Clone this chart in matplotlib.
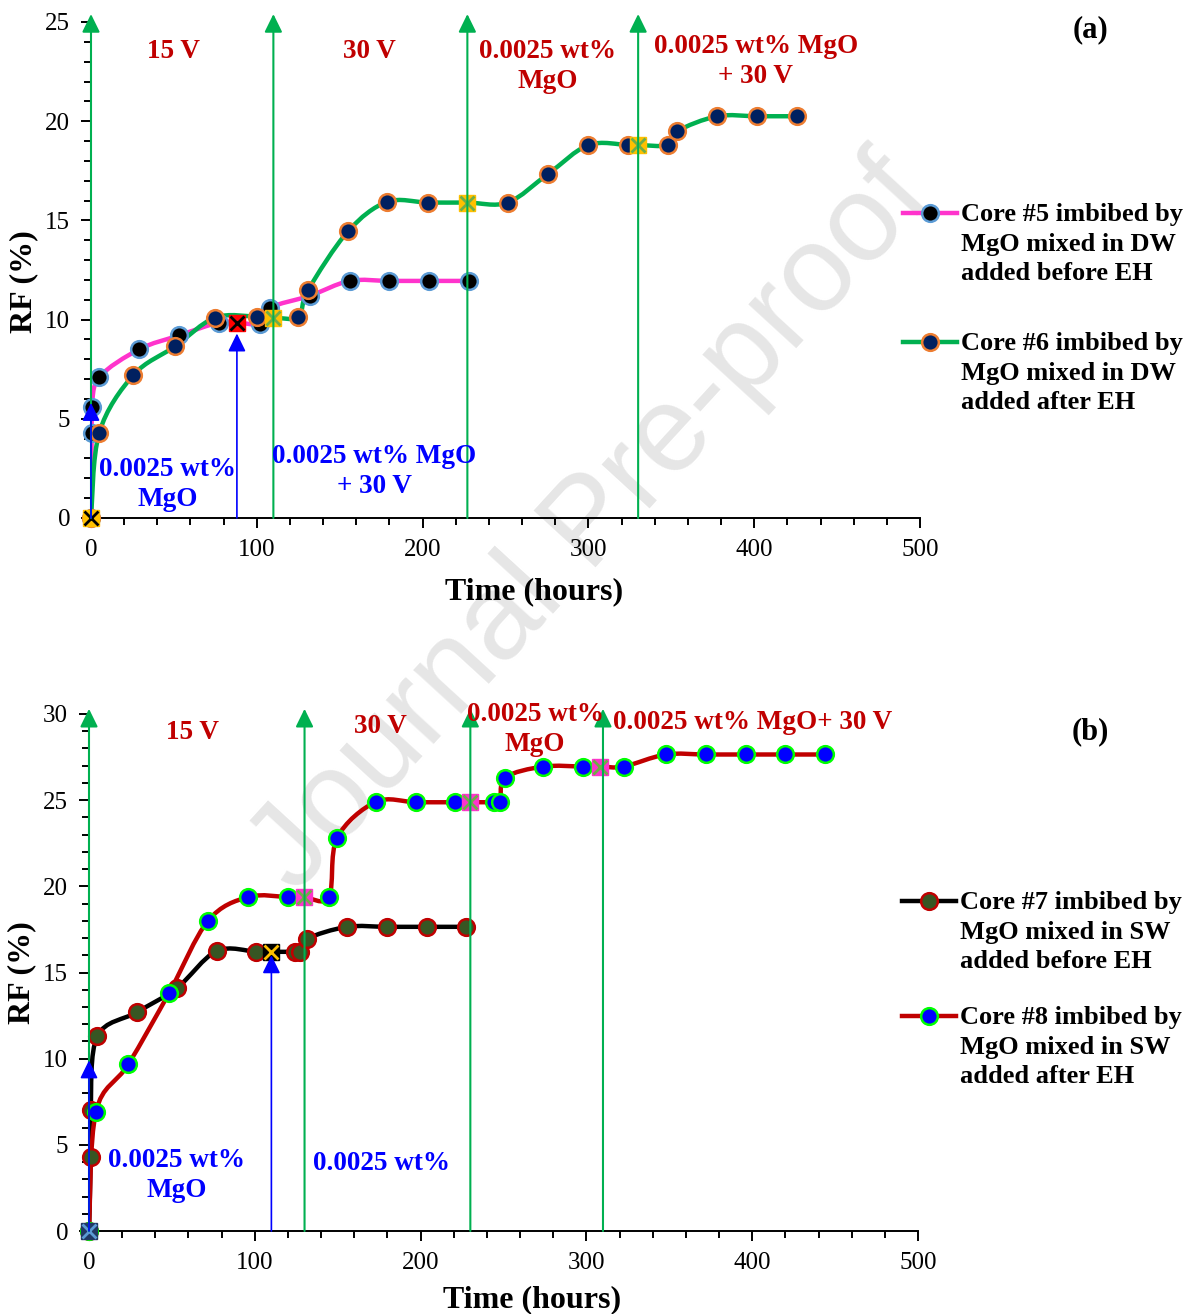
import numpy as np
import matplotlib
matplotlib.use("Agg")
import matplotlib.pyplot as plt
from matplotlib.path import Path
from matplotlib.patches import PathPatch
from matplotlib.lines import Line2D
from matplotlib.ticker import MultipleLocator

plt.rcParams['font.family'] = ['Liberation Serif', 'DejaVu Serif']

# ---- panel (a) data ----
t5 = [0, 0.4, 0.6, 5, 29, 53, 77, 88, 102, 108, 132, 156, 180, 204, 228]
rf5 = [0, 4.3, 5.6, 7.1, 8.5, 9.2, 9.85, 9.85, 9.8, 10.6, 11.2, 11.95, 11.95, 11.95, 11.95]
sp5 = [7]

t6 = [0, 5, 25.5, 50.7, 74.8, 100, 110, 125, 131, 155, 178.5, 203, 227, 251.3,
      275.8, 300, 323.6, 330, 348, 353.6, 377.7, 401.9, 425.6]
rf6 = [0, 4.3, 7.2, 8.65, 10.1, 10.15, 10.1, 10.15, 11.5, 14.45, 15.93, 15.9, 15.9, 15.9,
       17.35, 18.8, 18.8, 18.8, 18.8, 19.5, 20.25, 20.25, 20.25]
sp6 = [6, 12, 17]

green_a = [0, 110, 227, 330]
blue_a_x = [0, 88]
blue_a_tip = [5.8, 9.3]

# ---- panel (b) data ----
t7 = [0, 1, 1, 5, 29, 53, 77, 101, 110, 124.3, 127.3, 131.4, 155.6, 179.7, 203.9, 227.6]
rf7 = [0, 4.3, 7.05, 11.3, 12.7, 14.1, 16.25, 16.2, 16.2, 16.2, 16.2, 16.95, 17.65, 17.65, 17.65, 17.65]
sp7 = [8]

t8 = [0, 4.2, 23.7, 48.4, 71.8, 96, 120.2, 129.8, 144.7, 149.6, 173, 197, 220.8, 229.8,
      244, 248, 251, 274, 298, 308.5, 322.5, 347.8, 372, 396, 420, 444]
rf8 = [0, 6.92, 9.67, 13.83, 18.0, 19.38, 19.38, 19.38, 19.38, 22.8, 24.9, 24.88, 24.88, 24.88,
       24.88, 24.88, 26.3, 26.95, 26.95, 26.95, 26.95, 27.65, 27.65, 27.65, 27.65, 27.65]
sp8 = [7, 13, 19]

green_b = [0, 130, 230, 310]
blue_b_x = [0, 110]
blue_b_tip = [9.9, 16.0]

label5 = "Core #5 imbibed by\nMgO mixed in DW\nadded before EH"
label6 = "Core #6 imbibed by\nMgO mixed in DW\nadded after EH"
label7 = "Core #7 imbibed by\nMgO mixed in SW\nadded before EH"
label8 = "Core #8 imbibed by\nMgO mixed in SW\nadded after EH"

RED = '#C00000'
BLUE = '#0000FF'
GREEN = '#00B050'

W, H = 1195, 1314


def smooth_path(x, y):
    # Excel-style smoothed line as cubic bezier segments
    p = np.column_stack([x, y]).astype(float)
    n = len(p)
    verts = [p[0]]
    codes = [Path.MOVETO]
    for i in range(n - 1):
        p0 = p[i - 1] if i > 0 else p[i]
        p1, p2 = p[i], p[i + 1]
        p3 = p[i + 2] if i + 2 < n else p[i + 1]
        verts += [p1 + (p2 - p0) / 6, p2 - (p3 - p1) / 6, p2]
        codes += [Path.CURVE4] * 3
    return Path(verts, codes)


def draw_series(ax, t, rf, special, lc, mfc, mec, sq_fc, sq_x):
    ax.add_patch(PathPatch(smooth_path(t, rf), fill=False, ec=lc, lw=3.2, zorder=3,
                           capstyle='round', joinstyle='round'))
    t = np.array(t)
    rf = np.array(rf)
    normal = [i for i in range(len(t)) if i not in special]
    ax.plot(t[normal], rf[normal], ls='none', marker='o', ms=12, mfc=mfc, mec=mec,
            mew=1.8, zorder=4, clip_on=False)
    ax.plot(t[special], rf[special], ls='none', marker='s', ms=11, mfc=sq_fc, mec=sq_fc,
            zorder=4.5, clip_on=False)
    ax.plot(t[special], rf[special], ls='none', marker='x', ms=10, mec=sq_x, mew=2,
            zorder=4.6, clip_on=False)


def origin_mark(ax, fc, xc):
    ax.plot([0], [0], ls='none', marker='s', ms=11, mfc=fc, mec=fc, zorder=4.7, clip_on=False)
    ax.plot([0], [0], ls='none', marker='x', ms=10, mec=xc, mew=2, zorder=4.8, clip_on=False)


def arrow(ax, x, y0, y1, color, lw):
    ax.annotate('', xy=(x, y1), xytext=(x, y0), annotation_clip=False, zorder=6,
                arrowprops=dict(arrowstyle='-|>,head_length=0.55,head_width=0.27',
                                color=color, lw=lw, shrinkA=0, shrinkB=0,
                                mutation_scale=20))


def style_axis(ax, ymax, xlab_y, ylab_y):
    ax.set_xlim(0, 500)
    ax.set_ylim(0, ymax)
    ax.set_facecolor('none')
    for s in ['top', 'right']:
        ax.spines[s].set_visible(False)
    for s in ['left', 'bottom']:
        ax.spines[s].set_linewidth(1.4)
    ax.xaxis.set_major_locator(MultipleLocator(100))
    ax.xaxis.set_minor_locator(MultipleLocator(20))
    ax.yaxis.set_major_locator(MultipleLocator(5))
    ax.yaxis.set_minor_locator(MultipleLocator(1))
    ax.tick_params(which='major', direction='out', length=7, width=1.4, labelsize=18, pad=8)
    ax.tick_params(which='minor', direction='out', length=5, width=1.4)
    ax.set_xlabel('Time (hours)', fontsize=23, fontweight='bold', va='center')
    ax.xaxis.set_label_coords(0.534, xlab_y)
    ax.set_ylabel('RF (%)', fontsize=23, fontweight='bold', va='center')
    ax.yaxis.set_label_coords(-0.081, ylab_y)


def legend_entry(x_px, y_px, lc, mfc, mec, text):
    # handle: short line with marker in the middle, text block to its right
    xs = [x_px / W, (x_px + 54) / W]
    ys = [1 - y_px / H] * 2
    fig.add_artist(Line2D(xs, ys, color=lc, lw=3.2, transform=fig.transFigure))
    fig.add_artist(Line2D([(x_px + 27) / W], [1 - y_px / H], ls='none', marker='o', ms=12,
                          mfc=mfc, mec=mec, mew=1.8, transform=fig.transFigure))
    fig.text((x_px + 58) / W, 1 - (y_px - 10) / H, text, fontsize=19, fontweight='bold',
             ha='left', va='top', linespacing=1.37)


fig = plt.figure(figsize=(11.95, 13.14), dpi=100)

fig.text(0.495, 0.6, 'Journal Pre-proof', family='Liberation Sans', fontsize=88,
         color='#E6E6E6', rotation=47.5, ha='center', va='center', zorder=-1)

kw = dict(fontsize=19.5, fontweight='bold', ha='center', va='center', linespacing=1.25, zorder=7)

# ---------- (a) ----------
ax1 = fig.add_axes([91 / W, 1 - 518 / H, 829 / W, 496 / H])
style_axis(ax1, 25, -0.149, 0.476)
draw_series(ax1, t5, rf5, sp5, '#FF33CC', 'black', '#5B9BD5', '#FF0000', 'black')
draw_series(ax1, t6, rf6, sp6, GREEN, '#002060', '#ED7D31', '#FFC000', '#70AD47')
origin_mark(ax1, '#FFC000', 'black')
for x in green_a:
    arrow(ax1, x, 0, 25.4, GREEN, 1.5)
for x, tip in zip(blue_a_x, blue_a_tip):
    arrow(ax1, x, 0, tip, BLUE, 1.2)

ax1.text(49.5, 23.5, '15 V', color=RED, **kw)
ax1.text(167.7, 23.5, '30 V', color=RED, **kw)
ax1.text(275.6, 22.75, '0.0025 wt%\nMgO', color=RED, **kw)
ax1.text(401, 23.0, '0.0025 wt% MgO\n+ 30 V', color=RED, **kw)
ax1.text(46.4, 1.7, '0.0025 wt%\nMgO', color=BLUE, **kw)
ax1.text(170.7, 2.35, '0.0025 wt% MgO\n+ 30 V', color=BLUE, **kw)
legend_entry(903, 213, '#FF33CC', 'black', '#5B9BD5', label5)
legend_entry(903, 342, GREEN, '#002060', '#ED7D31', label6)
fig.text(1090 / W, 1 - 30 / H, '(a)', fontsize=22, fontweight='bold',
         ha='center', va='center')

# ---------- (b) ----------
ax2 = fig.add_axes([89 / W, 1 - 1231 / H, 829 / W, 517 / H])
style_axis(ax2, 30, -0.133, 0.5)
draw_series(ax2, t7, rf7, sp7, 'black', '#375623', RED, 'black', '#FFC000')
draw_series(ax2, t8, rf8, sp8, RED, BLUE, '#00FF00', '#FF33CC', '#70AD47')
origin_mark(ax2, '#203864', '#5B9BD5')
for x in green_b:
    arrow(ax2, x, 0, 30.3, GREEN, 1.5)
for x, tip in zip(blue_b_x, blue_b_tip):
    arrow(ax2, x, 0, tip, BLUE, 1.2)

ax2.text(62.1, 28.9, '15 V', color=RED, **kw)
ax2.text(175.5, 29.25, '30 V', color=RED, **kw)
ax2.text(269, 29.1, '0.0025 wt%\nMgO', color=RED, **kw)
ax2.text(400, 29.5, '0.0025 wt% MgO+ 30 V', color=RED, **kw)
ax2.text(53, 3.2, '0.0025 wt%\nMgO', color=BLUE, **kw)
ax2.text(176.7, 3.9, '0.0025 wt%', color=BLUE, **kw)
legend_entry(902, 901, 'black', '#375623', RED, label7)
legend_entry(902, 1016, RED, BLUE, '#00FF00', label8)
fig.text(1090 / W, 1 - 732 / H, '(b)', fontsize=22, fontweight='bold',
         ha='center', va='center')

fig.savefig('out.png', dpi=100)
